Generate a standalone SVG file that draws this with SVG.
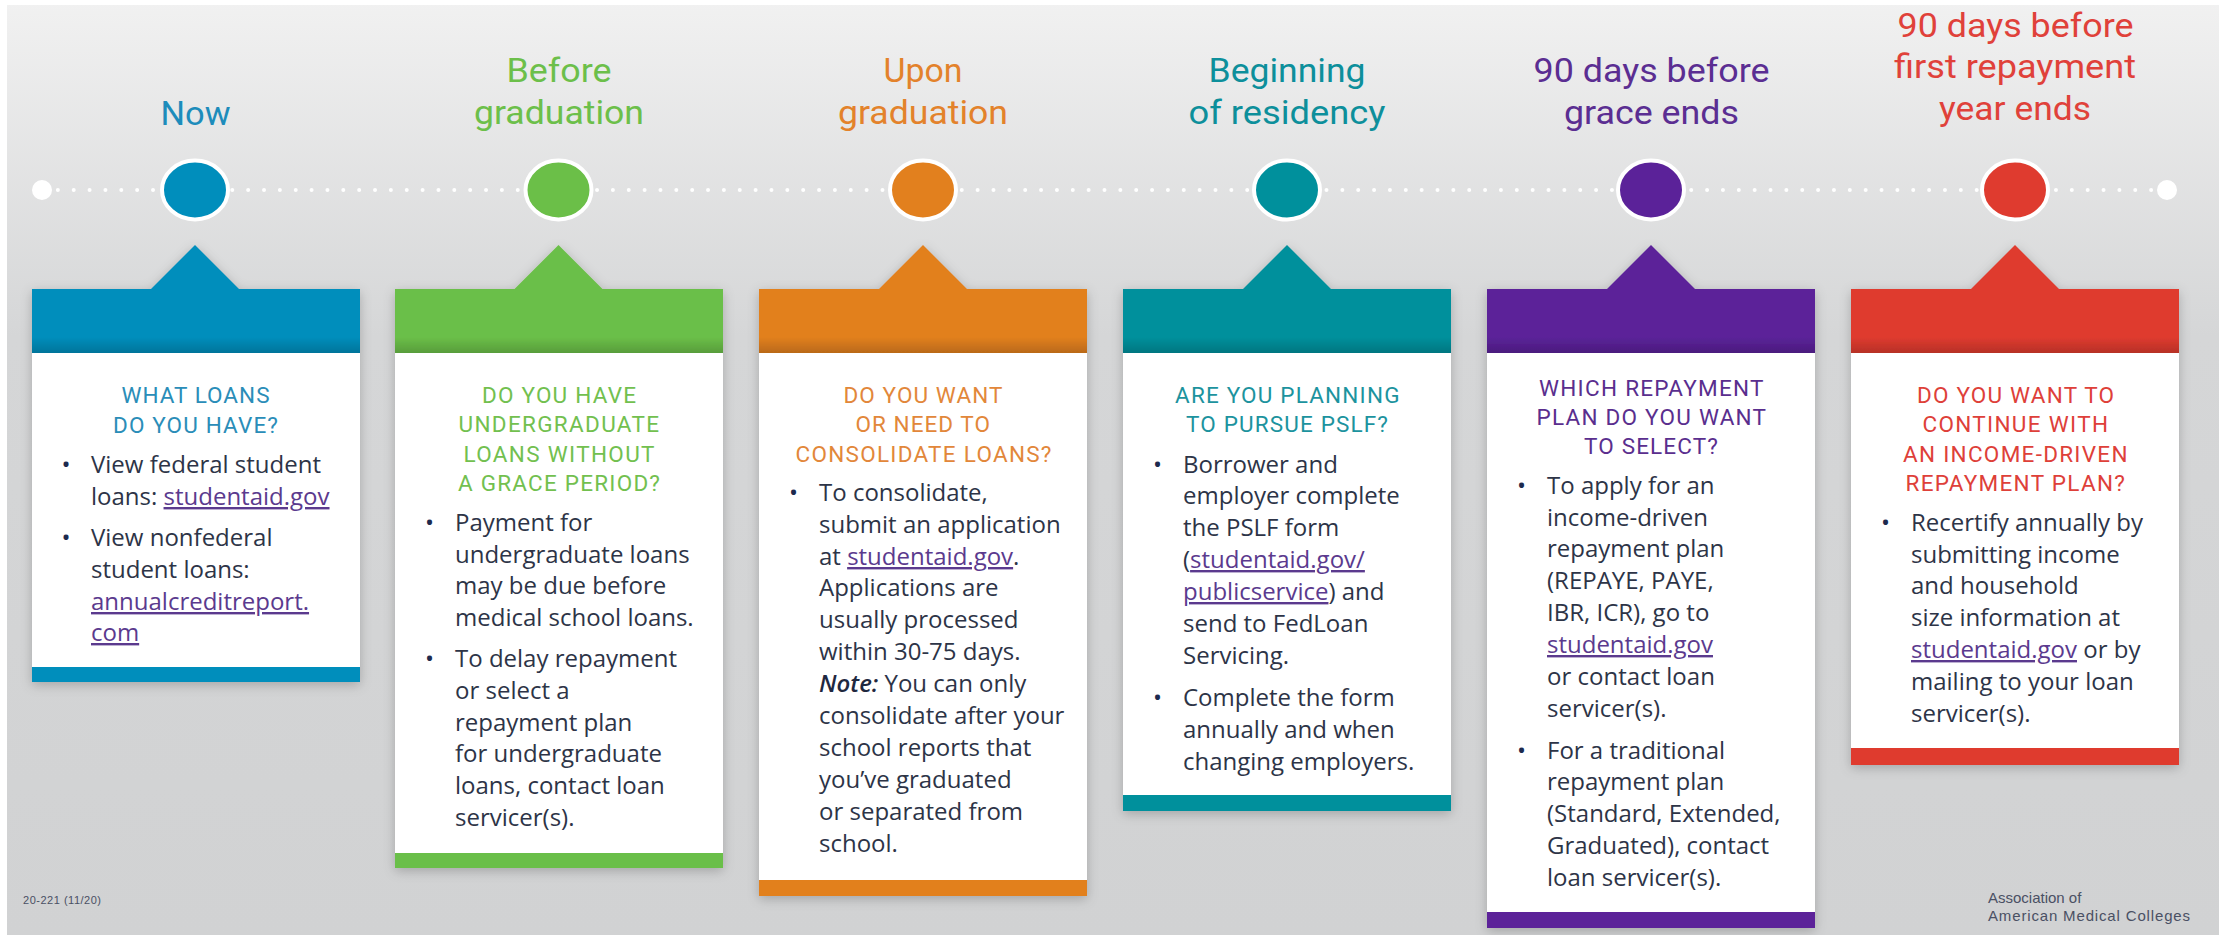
<svg xmlns="http://www.w3.org/2000/svg" width="2219" height="935" viewBox="0 0 2219 935">
  <style>
    .title { font-family: Roboto, "Liberation Sans", sans-serif; font-size: 34px; }
    .head { font-family: Roboto, "Liberation Sans", sans-serif; font-size: 22.5px; }
    .body { font-family: "Open Sans", "Liberation Sans", sans-serif; font-size: 24px; fill: #2d3447; }
    .bullet { font-family: "Open Sans", "Liberation Sans", sans-serif; font-size: 24px; fill: #1d2a4e; text-anchor: middle; }
    .link { fill: #5b3a8e; text-decoration: underline; }
    .note { font-style: italic; font-weight: 600; fill: #1f2840; }
    .foot { font-family: "Liberation Sans", Arial, sans-serif; fill: #4a5064; }
  </style>
  <defs>
    <linearGradient id="bg" x1="0" y1="0" x2="0" y2="935" gradientUnits="userSpaceOnUse">
      <stop offset="0" stop-color="#f1f1f1"/>
      <stop offset="0.36" stop-color="#d5d6d7"/>
      <stop offset="1" stop-color="#d1d2d3"/>
    </linearGradient>
    <linearGradient id="bandShade" x1="0" y1="0" x2="0" y2="1">
      <stop offset="0" stop-color="#000" stop-opacity="0"/>
      <stop offset="1" stop-color="#000" stop-opacity="0.18"/>
    </linearGradient>
    <filter id="shadow" x="-10%" y="-10%" width="120%" height="120%">
      <feDropShadow dx="0" dy="3" stdDeviation="6" flood-color="#000" flood-opacity="0.22"/>
    </filter>
  </defs>

  <!-- page -->
  <rect width="2219" height="935" fill="#ffffff"/>
  <rect x="7" y="5" width="2212" height="930" fill="url(#bg)"/>

  <!-- dotted timeline -->
  <g id="connectors">
    <line x1="42" y1="190" x2="2167" y2="190" stroke="#ffffff" stroke-width="4" stroke-linecap="round" stroke-dasharray="0 15.858"/>
    <circle cx="42" cy="190" r="10" fill="#ffffff"/>
    <circle cx="2167" cy="190" r="10" fill="#ffffff"/>
  </g>

  <!-- Now -->
  <g id="node-now">
    <text class="title" fill="#1d8cbb" x="160.5" y="125" textLength="70" lengthAdjust="spacingAndGlyphs">Now</text>
    <ellipse cx="195" cy="190" rx="33" ry="29.5" fill="#008ebc" stroke="#ffffff" stroke-width="4"/>
    <g filter="url(#shadow)">
      <polygon points="195,245 240,290 150,290" fill="#008ebc"/>
      <rect x="32" y="289" width="328" height="64" fill="#008ebc"/>
      <rect x="32" y="337" width="328" height="16" fill="url(#bandShade)"/>
      <rect x="32" y="353" width="328" height="314" fill="#ffffff"/>
      <rect x="32" y="667" width="328" height="15" fill="#008ebc"/>
    </g>
    <text class="head" fill="#2a8db8" x="121.5" y="403" textLength="148">WHAT LOANS</text>
    <text class="head" fill="#2a8db8" x="113" y="433" textLength="165">DO YOU HAVE?</text>
    <text class="bullet" x="66" y="473">•</text>
    <text class="body" x="91" y="473">View federal student</text>
    <text class="body" x="91" y="505">loans: <tspan class="link">studentaid.gov</tspan></text>
    <text class="bullet" x="66" y="546">•</text>
    <text class="body" x="91" y="546">View nonfederal</text>
    <text class="body" x="91" y="578">student loans:</text>
    <text class="body" x="91" y="610"><tspan class="link">annualcreditreport.</tspan></text>
    <text class="body" x="91" y="641"><tspan class="link">com</tspan></text>
  </g>

  <!-- Before graduation -->
  <g id="node-before-graduation">
    <text class="title" fill="#6cbf4a" x="506.5" y="82" textLength="105" lengthAdjust="spacingAndGlyphs">Before</text>
    <text class="title" fill="#6cbf4a" x="474" y="124" textLength="170" lengthAdjust="spacingAndGlyphs">graduation</text>
    <ellipse cx="558.5" cy="190" rx="33" ry="29.5" fill="#6bbf48" stroke="#ffffff" stroke-width="4"/>
    <g filter="url(#shadow)">
      <polygon points="558.5,245 603.5,290 513.5,290" fill="#6bbf48"/>
      <rect x="395" y="289" width="328" height="64" fill="#6bbf48"/>
      <rect x="395" y="337" width="328" height="16" fill="url(#bandShade)"/>
      <rect x="395" y="353" width="328" height="500" fill="#ffffff"/>
      <rect x="395" y="853" width="328" height="15" fill="#6bbf48"/>
    </g>
    <text class="head" fill="#72c04f" x="482" y="403" textLength="154">DO YOU HAVE</text>
    <text class="head" fill="#72c04f" x="458.5" y="432" textLength="200.5">UNDERGRADUATE</text>
    <text class="head" fill="#72c04f" x="463.5" y="462" textLength="191">LOANS WITHOUT</text>
    <text class="head" fill="#72c04f" x="458" y="491" textLength="202">A GRACE PERIOD?</text>
    <text class="bullet" x="429.5" y="531">•</text>
    <text class="body" x="455" y="531">Payment for</text>
    <text class="body" x="455" y="563">undergraduate loans</text>
    <text class="body" x="455" y="594">may be due before</text>
    <text class="body" x="455" y="626">medical school loans.</text>
    <text class="bullet" x="429.5" y="667">•</text>
    <text class="body" x="455" y="667">To delay repayment</text>
    <text class="body" x="455" y="699">or select a</text>
    <text class="body" x="455" y="731">repayment plan</text>
    <text class="body" x="455" y="762">for undergraduate</text>
    <text class="body" x="455" y="794">loans, contact loan</text>
    <text class="body" x="455" y="826">servicer(s).</text>
  </g>

  <!-- Upon graduation -->
  <g id="node-upon-graduation">
    <text class="title" fill="#e3822b" x="883.5" y="82" textLength="79" lengthAdjust="spacingAndGlyphs">Upon</text>
    <text class="title" fill="#e3822b" x="838" y="124" textLength="170" lengthAdjust="spacingAndGlyphs">graduation</text>
    <ellipse cx="923" cy="190" rx="33" ry="29.5" fill="#e2801e" stroke="#ffffff" stroke-width="4"/>
    <g filter="url(#shadow)">
      <polygon points="923,245 968,290 878,290" fill="#e2801e"/>
      <rect x="759" y="289" width="328" height="64" fill="#e2801e"/>
      <rect x="759" y="337" width="328" height="16" fill="url(#bandShade)"/>
      <rect x="759" y="353" width="328" height="527" fill="#ffffff"/>
      <rect x="759" y="880" width="328" height="16" fill="#e2801e"/>
    </g>
    <text class="head" fill="#e2873a" x="843.5" y="403" textLength="159">DO YOU WANT</text>
    <text class="head" fill="#e2873a" x="855.5" y="432" textLength="134.5">OR NEED TO</text>
    <text class="head" fill="#e2873a" x="795.5" y="462" textLength="256">CONSOLIDATE LOANS?</text>
    <text class="bullet" x="793.5" y="501">•</text>
    <text class="body" x="819" y="501">To consolidate,</text>
    <text class="body" x="819" y="533">submit an application</text>
    <text class="body" x="819" y="565">at <tspan class="link">studentaid.gov</tspan>.</text>
    <text class="body" x="819" y="596">Applications are</text>
    <text class="body" x="819" y="628">usually processed</text>
    <text class="body" x="819" y="660">within 30-75 days.</text>
    <text class="body" x="819" y="692"><tspan class="note">Note:</tspan> You can only</text>
    <text class="body" x="819" y="724">consolidate after your</text>
    <text class="body" x="819" y="756">school reports that</text>
    <text class="body" x="819" y="788">you’ve graduated</text>
    <text class="body" x="819" y="820">or separated from</text>
    <text class="body" x="819" y="852">school.</text>
  </g>

  <!-- Beginning of residency -->
  <g id="node-residency">
    <text class="title" fill="#0d8f9b" x="1208.5" y="82" textLength="157" lengthAdjust="spacingAndGlyphs">Beginning</text>
    <text class="title" fill="#0d8f9b" x="1188.5" y="124" textLength="197" lengthAdjust="spacingAndGlyphs">of residency</text>
    <ellipse cx="1287" cy="190" rx="33" ry="29.5" fill="#00909c" stroke="#ffffff" stroke-width="4"/>
    <g filter="url(#shadow)">
      <polygon points="1287,245 1332,290 1242,290" fill="#00909c"/>
      <rect x="1123" y="289" width="328" height="64" fill="#00909c"/>
      <rect x="1123" y="337" width="328" height="16" fill="url(#bandShade)"/>
      <rect x="1123" y="353" width="328" height="442" fill="#ffffff"/>
      <rect x="1123" y="795" width="328" height="16" fill="#00909c"/>
    </g>
    <text class="head" fill="#1c939e" x="1175" y="403" textLength="224.5">ARE YOU PLANNING</text>
    <text class="head" fill="#1c939e" x="1186" y="432" textLength="202">TO PURSUE PSLF?</text>
    <text class="bullet" x="1157.5" y="473">•</text>
    <text class="body" x="1183" y="473">Borrower and</text>
    <text class="body" x="1183" y="504">employer complete</text>
    <text class="body" x="1183" y="536">the PSLF form</text>
    <text class="body" x="1183" y="568">(<tspan class="link">studentaid.gov/</tspan></text>
    <text class="body" x="1183" y="600"><tspan class="link">publicservice</tspan>) and</text>
    <text class="body" x="1183" y="632">send to FedLoan</text>
    <text class="body" x="1183" y="664">Servicing.</text>
    <text class="bullet" x="1157.5" y="706">•</text>
    <text class="body" x="1183" y="706">Complete the form</text>
    <text class="body" x="1183" y="738">annually and when</text>
    <text class="body" x="1183" y="770">changing employers.</text>
  </g>

  <!-- 90 days before grace ends -->
  <g id="node-grace-ends">
    <text class="title" fill="#5b2e92" x="1533.5" y="82" textLength="236" lengthAdjust="spacingAndGlyphs">90 days before</text>
    <text class="title" fill="#5b2e92" x="1564" y="124" textLength="175" lengthAdjust="spacingAndGlyphs">grace ends</text>
    <ellipse cx="1651" cy="190" rx="33" ry="29.5" fill="#5b2299" stroke="#ffffff" stroke-width="4"/>
    <g filter="url(#shadow)">
      <polygon points="1651,245 1696,290 1606,290" fill="#5b2299"/>
      <rect x="1487" y="289" width="328" height="64" fill="#5b2299"/>
      <rect x="1487" y="337" width="328" height="16" fill="url(#bandShade)"/>
      <rect x="1487" y="353" width="328" height="559" fill="#ffffff"/>
      <rect x="1487" y="912" width="328" height="16" fill="#5b2299"/>
    </g>
    <text class="head" fill="#5a2e8e" x="1539" y="396" textLength="224.5">WHICH REPAYMENT</text>
    <text class="head" fill="#5a2e8e" x="1536.5" y="425" textLength="229.5">PLAN DO YOU WANT</text>
    <text class="head" fill="#5a2e8e" x="1584" y="454" textLength="134">TO SELECT?</text>
    <text class="bullet" x="1521.5" y="494">•</text>
    <text class="body" x="1547" y="494">To apply for an</text>
    <text class="body" x="1547" y="526">income-driven</text>
    <text class="body" x="1547" y="557">repayment plan</text>
    <text class="body" x="1547" y="589">(REPAYE, PAYE,</text>
    <text class="body" x="1547" y="621">IBR, ICR), go to</text>
    <text class="body" x="1547" y="653"><tspan class="link">studentaid.gov</tspan></text>
    <text class="body" x="1547" y="685">or contact loan</text>
    <text class="body" x="1547" y="717">servicer(s).</text>
    <text class="bullet" x="1521.5" y="759">•</text>
    <text class="body" x="1547" y="759">For a traditional</text>
    <text class="body" x="1547" y="790">repayment plan</text>
    <text class="body" x="1547" y="822">(Standard, Extended,</text>
    <text class="body" x="1547" y="854">Graduated), contact</text>
    <text class="body" x="1547" y="886">loan servicer(s).</text>
  </g>

  <!-- 90 days before first repayment year ends -->
  <g id="node-first-year-ends">
    <text class="title" fill="#e0413a" x="1897.5" y="37" textLength="236" lengthAdjust="spacingAndGlyphs">90 days before</text>
    <text class="title" fill="#e0413a" x="1894" y="78" textLength="242" lengthAdjust="spacingAndGlyphs">first repayment</text>
    <text class="title" fill="#e0413a" x="1939" y="120" textLength="152" lengthAdjust="spacingAndGlyphs">year ends</text>
    <ellipse cx="2015" cy="190" rx="33" ry="29.5" fill="#df3b2f" stroke="#ffffff" stroke-width="4"/>
    <g filter="url(#shadow)">
      <polygon points="2015,245 2060,290 1970,290" fill="#df3b2f"/>
      <rect x="1851" y="289" width="328" height="64" fill="#df3b2f"/>
      <rect x="1851" y="337" width="328" height="16" fill="url(#bandShade)"/>
      <rect x="1851" y="353" width="328" height="395" fill="#ffffff"/>
      <rect x="1851" y="748" width="328" height="17" fill="#df3b2f"/>
    </g>
    <text class="head" fill="#de4039" x="1917" y="403" textLength="197">DO YOU WANT TO</text>
    <text class="head" fill="#de4039" x="1922.5" y="432" textLength="185.5">CONTINUE WITH</text>
    <text class="head" fill="#de4039" x="1903" y="462" textLength="224.5">AN INCOME-DRIVEN</text>
    <text class="head" fill="#de4039" x="1905.5" y="491" textLength="219.5">REPAYMENT PLAN?</text>
    <text class="bullet" x="1885.5" y="531">•</text>
    <text class="body" x="1911" y="531">Recertify annually by</text>
    <text class="body" x="1911" y="563">submitting income</text>
    <text class="body" x="1911" y="594">and household</text>
    <text class="body" x="1911" y="626">size information at</text>
    <text class="body" x="1911" y="658"><tspan class="link">studentaid.gov</tspan> or by</text>
    <text class="body" x="1911" y="690">mailing to your loan</text>
    <text class="body" x="1911" y="722">servicer(s).</text>
  </g>

  <!-- footer -->
  <g id="footer">
    <text class="foot" x="23" y="904" font-size="11" textLength="78">20-221 (11/20)</text>
    <text class="foot" x="1988" y="903" font-size="15">Association of</text>
    <text class="foot" x="1988" y="921" font-size="15" textLength="202">American Medical Colleges</text>
  </g>
</svg>
